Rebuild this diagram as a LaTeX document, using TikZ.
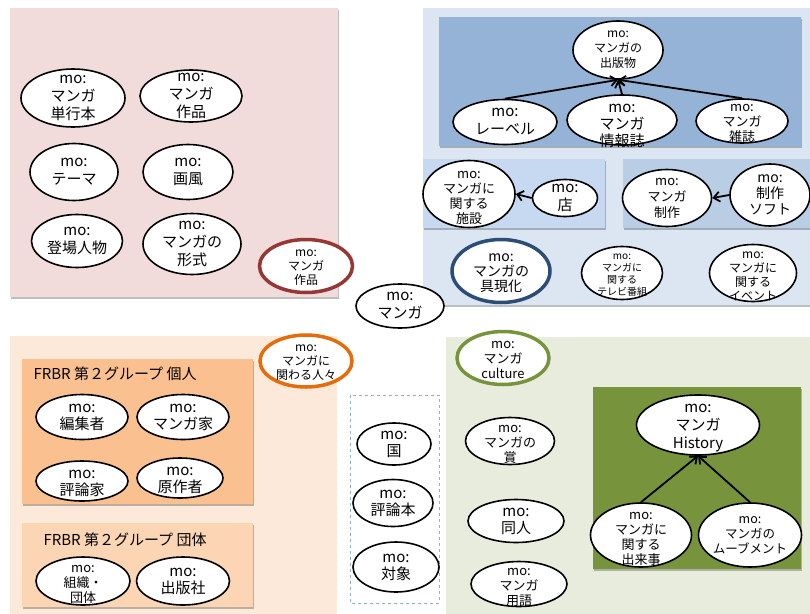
\documentclass[tikz,border=0pt]{standalone}
\usepackage{fontspec}
\setmainfont{Noto Sans CJK JP}
\usetikzlibrary{arrows.meta, shapes.geometric, shadows, calc}
\newcommand{\figArrow}{{Straight Barb[length=6pt, width=10pt]}}

\definecolor{pinkbg}{HTML}{F2DCDB}
\definecolor{bluebg}{HTML}{DCE6F2}
\definecolor{bluedark}{HTML}{95B3D7}
\definecolor{bluemidA}{HTML}{C6D9F1}
\definecolor{bluemidB}{HTML}{B9CDE5}
\definecolor{peachbg}{HTML}{FDE9D9}
\definecolor{orangemid}{HTML}{FAC090}
\definecolor{orangelight}{HTML}{FCD5B4}
\definecolor{greenbg}{HTML}{E8ECDD}
\definecolor{greendark}{HTML}{77933C}
\definecolor{redring}{HTML}{953735}
\definecolor{bluering}{HTML}{2C4D75}
\definecolor{orangering}{HTML}{E46C0A}
\definecolor{greenring}{HTML}{77933C}
\definecolor{dashblue}{HTML}{8FAFD6}

\begin{document}
\begin{tikzpicture}[x=1pt, y=-1pt,
	panel/.style={draw=none, drop shadow={shadow xshift=1pt, shadow yshift=-1.5pt, fill=black, opacity=.25}},
	moell/.style={ellipse, draw=black, line width=1.6pt, fill=white, inner sep=0pt},
	ring/.style={ellipse, draw=#1, line width=3.5pt, fill=white, inner sep=0pt},
	motext/.style={align=center, inner sep=0pt, text=black},
	conn/.style={line width=1.8pt, -\figArrow}]
	\useasboundingbox (0,0) rectangle (810,613);
	
	% panels
	\fill[pinkbg, panel]		(10,8) rectangle (338,297);
	\fill[bluebg, panel]		(423,8) rectangle (812,305);
	\fill[bluedark, panel]		(439,17) rectangle (801,146);
	\fill[bluemidA, panel]		(423,159) rectangle (605,228);
	\fill[bluemidB, panel]		(623,159) rectangle (812,228);
	\fill[peachbg]				(10,336) rectangle (337,615);
	\fill[orangemid, panel]		(22,359) rectangle (253,504);
	\fill[orangelight, panel]	(22,523) rectangle (253,607);
	\fill[greenbg]				(446,337) rectangle (812,615);
	\fill[greendark, panel]		(593,387) rectangle (801,569);
	\draw[dashblue, dashed, line width=0.8pt]	(350,395) rectangle (439,603);
	
	\node[anchor=west, font=\fontsize{15}{18}\selectfont] (title1) at (30,374) {FRBR 第２グループ 個人};
	\node[anchor=west, font=\fontsize{15}{18}\selectfont] (title2) at (40,540) {FRBR 第２グループ 団体};
	
	% classes
	\foreach \nm/\x/\y/\w/\h/\fs/\ls/\dy/\txt in {
		tankobon/73/98/104/58/15/18/0/{mo:\\マンガ\\単行本},
		sakuhin/191/96/102/52/15/18/0/{mo:\\マンガ\\作品},
		theme/74/172/88/57/15/18/0/{mo:\\テーマ},
		gafu/188/172/90/55/15/18/0/{mo:\\画風},
		tojo/77/241/91/53/15/18/0/{mo:\\登場人物},
		keishiki/192/244/98/61/15/18/0/{mo:\\マンガの\\形式},
		manga/400/306/88/44/15/18/0/{mo:\\マンガ},
		shuppanbutsu/618/50/90/58/12/15/0/{mo:\\マンガの\\出版物},
		label/505/122/104/45/15/18/0/{mo:\\レーベル},
		johoshi/622/120/110/50/15/17/6/{mo:\\マンガ\\情報誌},
		zasshi/742/121/92/44/13/15/2/{mo:\\マンガ\\雑誌},
		shisetsu/469/194/92/67/13/15/4/{mo:\\マンガに\\関する\\施設},
		mise/565/198/65/37/15/18/0/{mo:\\店},
		seisaku/667/198/89/57/13/16/0/{mo:\\マンガ\\制作},
		soft/770/195/80/62/14/16/0/{mo:\\制作\\ソフト},
		tv/622/273/81/53/10/12/2/{mo:\\マンガに\\関する\\テレビ番組},
		event/753/273/87/57/12/14/3/{mo:\\マンガに\\関する\\イベント},
		henshu/82/417/92/45/15/17/0/{mo:\\編集者},
		mangaka/183/417/92/45/15/17/0/{mo:\\マンガ家},
		hyoronka/82/481/92/40/15/17/2/{mo:\\評論家},
		gensaku/180/478/86/40/15/17/2/{mo:\\原作者},
		soshiki/83/581/94/48/13/15/3/{mo:\\組織・\\団体},
		shuppansha/183/581/93/48/15/17/0/{mo:\\出版社},
		kuni/394/444/74/42/15/17/0/{mo:\\国},
		hyoronbon/393/503/80/47/15/17/0/{mo:\\評論本},
		taisho/396/567/86/50/15/17/0/{mo:\\対象},
		sho/510/441/89/47/13/15/3/{mo:\\マンガの\\賞},
		dojin/516/521/96/43/15/17/0/{mo:\\同人},
		yogo/519/584/96/45/13/15/3/{mo:\\マンガ\\用語},
		history/698/425/123/60/15/18/3/{mo:\\マンガ\\History},
		dekigoto/641/535/101/64/13/15/4/{mo:\\マンガに\\関する\\出来事},
		movement/750/535/103/64/12.5/15/0/{mo:\\マンガの\\ムーブメント}} {
		\node[moell, minimum width=\w, minimum height=\h] (\nm) at (\x,\y) {};
		\node[motext, font=\fontsize{\fs}{\ls}\selectfont] (\nm-t) at ([yshift=-\dy]\nm) {\txt};
	}
	
	% group heads
	\foreach \nm/\x/\y/\w/\h/\col/\fs/\ls/\txt in {
		sakuhinR/306/266/93/53/redring/12/14/{mo:\\マンガ\\作品},
		gugenka/501/271/98/63/bluering/14/15/{mo:\\マンガの\\具現化},
		hitobito/306/361/92/52/orangering/12/14/{mo:\\マンガに\\関わる人々},
		culture/503/358/92/53/greenring/13/15/{mo:\\マンガ\\culture}} {
		\node[ring=\col, minimum width=\w, minimum height=\h] (\nm) at (\x,\y) {};
		\node[motext, font=\fontsize{\fs}{\ls}\selectfont] (\nm-t) at ([yshift=-2]\nm) {\txt};
	}
	
	\foreach \src in {label, johoshi, zasshi} {
		\draw[conn]	(\src.north) -- (shuppanbutsu.south);
	}
	\draw[conn]	(mise.west) -- (shisetsu.east);
	\draw[conn]	(soft.west) -- (seisaku.east);
	\foreach \src in {dekigoto, movement} {
		\draw[conn]	(\src.north) -- (history.south);
	}
	
\end{tikzpicture}
\end{document}
